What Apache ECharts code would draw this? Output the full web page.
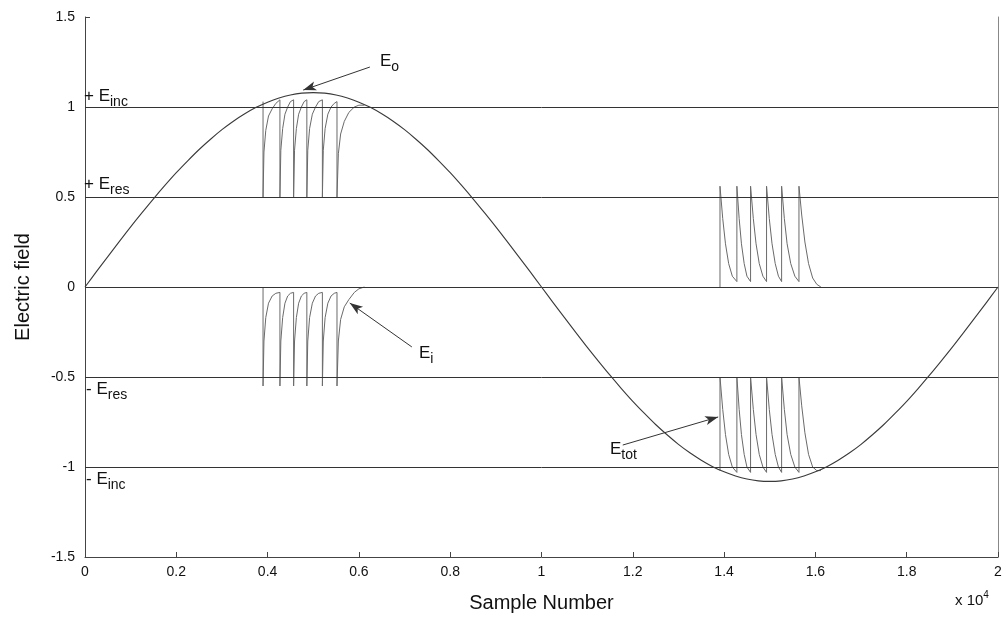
<!DOCTYPE html>
<html>
<head>
<meta charset="utf-8">
<script src="https://cdn.jsdelivr.net/npm/echarts@6/dist/echarts.min.js"></script>
<style>html,body{margin:0;padding:0;background:#fff}#c{width:1006px;height:618px}</style>
</head>
<body>
<div id="c"></div>
<script>
// x in units of 10^4 samples
const sampleX = [0,0.025,0.05,0.075,0.1,0.125,0.15,0.175,0.2,0.225,0.25,0.275,0.3,0.325,0.35,0.375,0.4,0.425,0.45,0.475,0.5,
  0.525,0.55,0.575,0.6,0.625,0.65,0.675,0.7,0.725,0.75,0.775,0.8,0.825,0.85,0.875,0.9,0.925,0.95,0.975,1,
  1.025,1.05,1.075,1.1,1.125,1.15,1.175,1.2,1.225,1.25,1.275,1.3,1.325,1.35,1.375,1.4,1.425,1.45,1.475,1.5,
  1.525,1.55,1.575,1.6,1.625,1.65,1.675,1.7,1.725,1.75,1.775,1.8,1.825,1.85,1.875,1.9,1.925,1.95,1.975,2];
const e0Values = [0,0.085,0.169,0.252,0.334,0.413,0.49,0.564,0.635,0.701,0.764,0.821,0.874,0.921,0.962,0.998,1.027,1.05,1.067,1.077,1.08,
  1.077,1.067,1.05,1.027,0.998,0.962,0.921,0.874,0.821,0.764,0.701,0.635,0.564,0.49,0.413,0.334,0.252,0.169,0.085,0,
  -0.085,-0.169,-0.252,-0.334,-0.413,-0.49,-0.564,-0.635,-0.701,-0.764,-0.821,-0.874,-0.921,-0.962,-0.998,-1.027,-1.05,-1.067,-1.077,-1.08,
  -1.077,-1.067,-1.05,-1.027,-0.998,-0.962,-0.921,-0.874,-0.821,-0.764,-0.701,-0.635,-0.564,-0.49,-0.413,-0.334,-0.252,-0.169,-0.085,0];

const eTotLeft = [
[0.39,1.03],[0.39,0.5],[0.392,0.75],[0.396,0.87],[0.402,0.95],[0.41,0.99],[0.418,1.02],[0.427,1.04],
[0.427,0.5],[0.429,0.76],[0.433,0.88],[0.438,0.96],[0.444,1.0],[0.45,1.03],[0.457,1.04],
[0.457,0.5],[0.459,0.76],[0.463,0.88],[0.468,0.96],[0.474,1.0],[0.48,1.03],[0.486,1.04],
[0.486,0.5],[0.488,0.76],[0.492,0.88],[0.498,0.96],[0.505,1.0],[0.512,1.03],[0.52,1.04],
[0.52,0.5],[0.522,0.76],[0.526,0.88],[0.532,0.96],[0.539,1.0],[0.546,1.02],[0.552,1.03],
[0.552,0.5],[0.555,0.74],[0.56,0.85],[0.568,0.92],[0.578,0.97],[0.59,1.0],[0.6,1.01],[0.612,1.01]];

const eiLeft = [
[0.39,0],[0.39,-0.55],[0.392,-0.3],[0.396,-0.17],[0.402,-0.09],[0.41,-0.05],[0.418,-0.035],[0.427,-0.03],
[0.427,-0.55],[0.429,-0.3],[0.433,-0.17],[0.438,-0.09],[0.444,-0.05],[0.45,-0.035],[0.457,-0.03],
[0.457,-0.55],[0.459,-0.3],[0.463,-0.17],[0.468,-0.09],[0.474,-0.05],[0.48,-0.035],[0.486,-0.03],
[0.486,-0.55],[0.488,-0.3],[0.492,-0.17],[0.498,-0.09],[0.505,-0.05],[0.512,-0.035],[0.52,-0.03],
[0.52,-0.55],[0.522,-0.3],[0.526,-0.17],[0.532,-0.09],[0.539,-0.05],[0.546,-0.035],[0.552,-0.03],
[0.552,-0.55],[0.555,-0.3],[0.56,-0.18],[0.568,-0.11],[0.578,-0.07],[0.59,-0.03],[0.6,-0.01],[0.612,0]];

const eiRight = [
[1.391,0],[1.391,0.56],[1.397,0.38],[1.403,0.24],[1.41,0.13],[1.418,0.06],[1.428,0.03],
[1.428,0.56],[1.433,0.38],[1.438,0.24],[1.444,0.13],[1.45,0.06],[1.458,0.03],
[1.458,0.56],[1.464,0.38],[1.47,0.24],[1.477,0.13],[1.485,0.06],[1.493,0.03],
[1.493,0.56],[1.499,0.38],[1.505,0.24],[1.512,0.13],[1.519,0.06],[1.526,0.03],
[1.526,0.56],[1.532,0.38],[1.538,0.24],[1.546,0.13],[1.555,0.06],[1.564,0.03],
[1.564,0.56],[1.57,0.4],[1.577,0.25],[1.585,0.13],[1.594,0.05],[1.603,0.015],[1.612,0]];

const eTotRight = [
[1.391,-1.02],[1.391,-0.5],[1.397,-0.68],[1.403,-0.82],[1.41,-0.93],[1.418,-1.0],[1.428,-1.03],
[1.428,-0.5],[1.433,-0.68],[1.438,-0.82],[1.444,-0.93],[1.45,-1.0],[1.458,-1.03],
[1.458,-0.5],[1.464,-0.68],[1.47,-0.82],[1.477,-0.93],[1.485,-1.0],[1.493,-1.03],
[1.493,-0.5],[1.499,-0.68],[1.505,-0.82],[1.512,-0.93],[1.519,-1.0],[1.526,-1.03],
[1.526,-0.5],[1.532,-0.68],[1.538,-0.82],[1.546,-0.93],[1.555,-1.0],[1.564,-1.03],
[1.564,-0.5],[1.57,-0.66],[1.577,-0.81],[1.585,-0.93],[1.594,-1.0],[1.603,-1.02],[1.612,-1.02]];

const refLevels = [1, 0.5, 0, -0.5, -1];
const xTicks = ['0','0.2','0.4','0.6','0.8','1','1.2','1.4','1.6','1.8','2'];
const yTicks = ['-1.5','-1','-0.5','0','0.5','1','1.5'];

// annotation arrows [from, to] in data coords
const arrows = [
  [[0.624,1.222],[0.478,1.094]],
  [[0.716,-0.333],[0.580,-0.089]],
  [[1.178,-0.878],[1.387,-0.722]]
];

const FONT = '"Liberation Sans", Arial, sans-serif';
const e0Data = sampleX.map((x,i)=>[x,e0Values[i]]);

const chart = echarts.init(document.getElementById('c'), null, {renderer:'canvas'});

const sub = (top,left,main,s) => ({
  type:'text', left:left, top:top, z:50,
  style:{
    text:'{p|' + main + '}{s|' + s + '}',
    rich:{
      p:{fontFamily:FONT,fontSize:17,fill:'#111',verticalAlign:'top',lineHeight:18},
      s:{fontFamily:FONT,fontSize:14,fill:'#111',verticalAlign:'top',lineHeight:16,padding:[7,0,0,0]}
    }
  }
});

const lineStyle = (c,w)=>({color:c,width:w});

chart.setOption({
  animation:false,
  backgroundColor:'#fff',
  grid:{left:85,right:8,top:17,bottom:61,containLabel:false},
  xAxis:{
    type:'value', min:0, max:2, interval:0.2,
    name:'Sample Number', nameLocation:'middle', nameGap:36,
    nameTextStyle:{fontFamily:FONT,fontSize:20,color:'#111'},
    axisLine:{show:true,onZero:false,lineStyle:{color:'#444',width:1}},
    axisTick:{show:true,inside:true,length:5,lineStyle:{color:'#444'}},
    axisLabel:{margin:8,fontFamily:FONT,fontSize:14,color:'#111',
      formatter:(v)=>xTicks[Math.round(v/0.2)]},
    splitLine:{show:false}
  },
  yAxis:[{
    type:'value', min:-1.5, max:1.5, interval:0.5,
    name:'Electric field', nameLocation:'middle', nameGap:52, nameRotate:90,
    nameTextStyle:{fontFamily:FONT,fontSize:20,color:'#111'},
    axisLine:{show:true,onZero:false,lineStyle:{color:'#444',width:1}},
    axisTick:{show:true,inside:true,length:5,lineStyle:{color:'#444'}},
    axisLabel:{margin:10,fontFamily:FONT,fontSize:14,color:'#111',
      formatter:(v)=>yTicks[Math.round((v+1.5)/0.5)]},
    splitLine:{show:false}
  },{
    type:'value', min:-1.5, max:1.5, interval:0.5, position:'right',
    axisLine:{show:true,onZero:false,lineStyle:{color:'#888',width:1}},
    axisTick:{show:false}, axisLabel:{show:false}, splitLine:{show:false}
  }],
  series:[
    {type:'line', data:e0Data, smooth:0.3, showSymbol:false, lineStyle:lineStyle('#3a3a3a',1.1), z:5,
     markLine:{silent:true, symbol:'none', label:{show:false},
       lineStyle:{color:'#333',width:1,type:'solid'},
       data: refLevels.map(v=>({yAxis:v}))}},
    {type:'line', data:eTotLeft, showSymbol:false, lineStyle:lineStyle('#6a6a6a',1), z:4},
    {type:'line', data:eiLeft, showSymbol:false, lineStyle:lineStyle('#6a6a6a',1), z:4},
    {type:'line', data:eiRight, showSymbol:false, lineStyle:lineStyle('#6a6a6a',1), z:4},
    {type:'line', data:eTotRight, showSymbol:false, lineStyle:lineStyle('#6a6a6a',1), z:4},
    {type:'line', data:[], showSymbol:false,
     markLine:{silent:true, symbol:['none','arrow'], symbolSize:[7,13], label:{show:false},
       lineStyle:{color:'#333',width:1,type:'solid'},
       data: arrows.map(a=>[{coord:a[0]},{coord:a[1]}])}}
  ],
  graphic:[
    sub(88,84,'+ E','inc'),
    sub(176,84,'+ E','res'),
    sub(381,86,'- E','res'),
    sub(471,86,'- E','inc'),
    sub(53,380,'E','o'),
    sub(345,419,'E','i'),
    sub(441,610,'E','tot'),
    {type:'text', left:955, top:590, style:{
      text:'{a|x 10}{b|4}',
      rich:{a:{fontFamily:FONT,fontSize:15,fill:'#111',verticalAlign:'bottom',lineHeight:18},
            b:{fontFamily:FONT,fontSize:10,fill:'#111',verticalAlign:'top',lineHeight:18}}
    }}
  ]
});
</script>
</body>
</html>
